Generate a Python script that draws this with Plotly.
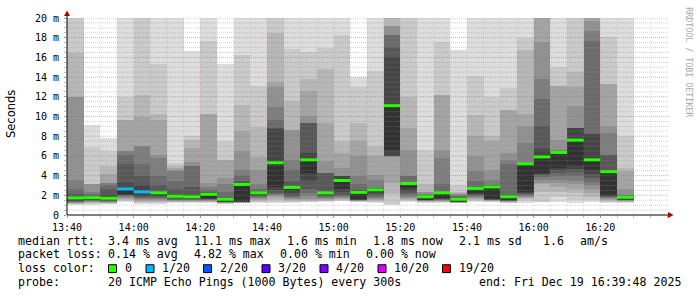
import plotly.graph_objects as go
import pandas as pd

# ---------------- data ----------------
DAY = "2025-12-19 "
bar_start = ["13:40", "13:45", "13:50", "13:55", "14:00", "14:05", "14:10", "14:15", "14:20",
             "14:25", "14:30", "14:35", "14:40", "14:45", "14:50", "14:55", "15:00", "15:05",
             "15:10", "15:15", "15:20", "15:25", "15:30", "15:35", "15:40", "15:45", "15:50",
             "15:55", "16:00", "16:05", "16:10", "16:15", "16:20", "16:25"]

median_ms = [1.73, 1.75, 1.7, 2.65, 2.35, 2.25, 1.9, 1.85, 2.1, 1.6, 3.1, 2.25, 5.3, 2.8,
             5.6, 2.25, 3.5, 2.3, 2.55, 11.1, 3.2, 1.85, 2.25, 1.6, 2.7, 2.85, 1.85, 5.2,
             5.9, 6.35, 7.6, 5.6, 4.4, 1.8]

lost_pings = [0, 0, 0, 1, 1, 0, 0, 0, 0, 0, 0, 0, 0, 0, 0, 0, 0, 0, 0, 0, 0, 0, 0, 0,
              0, 0, 0, 0, 0, 0, 0, 0, 0, 0]

# 20 sorted ping round-trip times (ms) per 5-minute step; values above 20 are off-scale
pings_ms = [
    [1.0, 1.1, 1.15, 1.2, 1.25, 1.3, 1.35, 1.4, 1.45, 1.5, 1.75, 1.8, 2.1, 2.6, 3.6, 12.0, 12.0, 16.4, 24, 24],
    [1.0, 1.1, 1.2, 1.3, 1.35, 1.4, 1.45, 1.5, 1.52, 1.55, 1.76, 1.8, 1.9, 2.1, 2.3, 3.1, 3.1, 3.1, 6.9, 9.1],
    [1.1, 1.15, 1.2, 1.25, 1.3, 1.35, 1.4, 1.45, 1.5, 1.55, 1.72, 2.0, 2.6, 3.0, 3.2, 3.2, 4.2, 5.0, 6.5, 7.8],
    [1.3, 1.4, 1.5, 1.6, 1.7, 1.8, 1.9, 2.0, 2.05, 2.1, 2.65, 3.2, 5.2, 6.1, 6.5, 6.5, 9.6, 9.6, 12.0, 24],
    [1.1, 1.2, 1.3, 1.4, 1.5, 1.6, 1.7, 1.8, 1.9, 2.3, 2.4, 3.0, 4.0, 5.2, 7.0, 7.0, 10.0, 12.2, 24, 24],
    [1.1, 1.2, 1.3, 1.4, 1.5, 1.6, 1.7, 1.8, 1.9, 2.0, 2.27, 2.3, 3.0, 4.0, 5.8, 6.1, 9.6, 10.3, 15.3, 24],
    [1.2, 1.3, 1.35, 1.4, 1.45, 1.5, 1.55, 1.6, 1.7, 1.85, 1.95, 2.0, 2.6, 3.5, 4.5, 4.6, 4.8, 5.0, 5.3, 24],
    [1.2, 1.3, 1.35, 1.4, 1.45, 1.5, 1.55, 1.6, 1.65, 1.8, 1.87, 2.0, 2.8, 5.0, 5.0, 5.4, 6.8, 7.6, 8.0, 16.7],
    [1.2, 1.3, 1.35, 1.4, 1.45, 1.5, 1.55, 1.6, 1.65, 1.7, 2.12, 2.2, 2.3, 2.5, 2.8, 3.3, 10.3, 10.3, 17.7, 24],
    [1.1, 1.15, 1.2, 1.22, 1.25, 1.27, 1.3, 1.32, 1.35, 1.4, 1.63, 1.7, 1.8, 2.3, 3.1, 3.8, 5.6, 5.6, 7.5, 15.3],
    [1.2, 1.22, 1.24, 1.26, 1.28, 1.3, 1.32, 1.34, 1.36, 1.4, 3.15, 3.2, 3.5, 4.0, 4.6, 6.5, 8.5, 11.2, 16.2, 24],
    [1.2, 1.3, 1.4, 1.5, 1.6, 1.7, 1.8, 1.9, 2.0, 2.1, 2.27, 2.3, 2.4, 2.6, 3.1, 4.6, 5.9, 8.9, 13.1, 24],
    [1.2, 1.3, 1.5, 1.7, 1.9, 2.0, 2.1, 2.2, 2.5, 2.8, 5.3, 8.7, 8.8, 9.6, 11.0, 13.0, 13.5, 18.5, 24, 24],
    [1.2, 1.3, 1.4, 1.5, 1.6, 1.7, 1.8, 1.9, 2.2, 2.5, 2.85, 2.9, 3.5, 4.6, 5.6, 8.6, 8.6, 11.6, 16.9, 24],
    [1.3, 1.35, 1.4, 1.5, 1.6, 1.9, 2.2, 2.6, 3.5, 4.3, 5.7, 6.3, 9.3, 9.3, 9.3, 10.1, 12.6, 13.8, 16.5, 24],
    [1.3, 1.4, 1.45, 1.5, 1.6, 1.7, 1.8, 1.9, 2.0, 2.2, 2.27, 2.3, 4.3, 4.3, 4.3, 5.5, 9.3, 14.8, 17.0, 24],
    [1.4, 1.45, 1.5, 1.6, 1.7, 1.8, 1.9, 2.0, 2.3, 2.6, 3.55, 4.0, 4.0, 4.0, 4.0, 4.8, 6.3, 7.5, 18.3, 24],
    [1.3, 1.35, 1.4, 1.42, 1.45, 1.48, 1.5, 1.52, 1.55, 1.6, 2.35, 2.5, 2.5, 3.1, 4.0, 6.0, 7.5, 9.3, 13.0, 14.0],
    [1.2, 1.3, 1.4, 1.5, 1.6, 1.7, 1.8, 2.0, 2.2, 2.4, 2.6, 2.7, 2.7, 2.7, 3.6, 4.1, 6.0, 7.0, 14.6, 24],
    [1.05, 1.1, 2.1, 3.3, 5.9, 5.95, 6.0, 6.0, 6.0, 6.6, 11.15, 16.0, 17.1, 18.3, 18.3, 19.2, 19.2, 24, 24, 24],
    [1.3, 1.4, 1.5, 1.6, 1.7, 1.8, 2.0, 2.2, 2.4, 2.7, 3.25, 3.3, 3.3, 4.0, 4.0, 6.6, 8.8, 12.0, 24, 24],
    [1.2, 1.3, 1.35, 1.4, 1.42, 1.45, 1.48, 1.5, 1.52, 1.55, 1.87, 1.9, 1.95, 2.0, 2.1, 2.3, 2.3, 3.1, 6.6, 24],
    [1.2, 1.3, 1.35, 1.4, 1.45, 1.5, 1.55, 1.6, 1.65, 1.7, 2.28, 2.3, 2.3, 3.1, 5.8, 6.6, 12.2, 12.2, 17.6, 24],
    [1.2, 1.22, 1.24, 1.26, 1.28, 1.3, 1.32, 1.34, 1.36, 1.38, 1.62, 1.7, 1.8, 1.9, 2.0, 2.1, 2.2, 2.3, 3.0, 16.8],
    [1.3, 1.4, 1.5, 1.6, 1.7, 1.8, 1.9, 2.0, 2.1, 2.2, 2.75, 2.8, 2.8, 3.5, 4.5, 6.0, 8.0, 10.2, 14.1, 24],
    [1.3, 1.35, 1.4, 1.45, 1.5, 1.52, 1.54, 1.56, 1.58, 1.6, 2.9, 3.0, 3.0, 3.0, 3.6, 4.6, 7.5, 8.0, 12.0, 24],
    [1.2, 1.25, 1.3, 1.35, 1.4, 1.42, 1.44, 1.46, 1.48, 1.5, 1.87, 1.9, 2.0, 5.2, 5.6, 6.3, 10.7, 10.7, 12.9, 24],
    [1.2, 1.4, 1.6, 1.7, 1.8, 1.9, 2.0, 2.1, 2.2, 2.3, 5.25, 5.3, 5.3, 5.3, 7.3, 9.0, 10.3, 16.8, 18.0, 24],
    [1.3, 1.3, 2.3, 3.1, 3.3, 3.6, 3.9, 4.1, 4.2, 4.3, 6.1, 6.7, 9.0, 11.8, 13.8, 17.6, 24, 24, 24, 24],
    [1.3, 1.8, 2.3, 2.8, 3.2, 3.6, 4.0, 4.3, 4.6, 4.8, 6.4, 6.5, 6.5, 6.5, 6.6, 7.6, 13.1, 13.1, 15.0, 24],
    [1.2, 1.5, 2.2, 2.6, 3.1, 3.5, 4.0, 4.4, 4.7, 5.0, 7.65, 8.8, 8.8, 8.8, 8.8, 11.1, 13.0, 14.5, 24, 24],
    [1.3, 1.5, 1.8, 2.2, 2.6, 3.0, 3.4, 3.8, 4.2, 4.6, 5.65, 8.2, 8.2, 17.7, 18.7, 19.7, 24, 24, 24, 24],
    [1.2, 1.3, 1.4, 1.5, 1.6, 1.7, 1.8, 1.85, 1.9, 2.0, 4.45, 4.5, 6.1, 6.1, 8.3, 9.0, 13.3, 13.3, 18.1, 24],
    [1.2, 1.3, 1.35, 1.4, 1.45, 1.5, 1.52, 1.54, 1.56, 1.6, 1.85, 1.9, 1.95, 2.0, 2.0, 2.6, 4.5, 4.8, 8.0, 24],
]

x_tick_labels = ["13:40", "14:00", "14:20", "14:40", "15:00", "15:20", "15:40", "16:00", "16:20"]
y_tick_values = [0, 2, 4, 6, 8, 10, 12, 14, 16, 18, 20]
y_tick_labels = ["0", "2 m", "4 m", "6 m", "8 m", "10 m", "12 m", "14 m", "16 m", "18 m", "20 m"]

loss_levels = [0, 1, 2, 3, 4, 10, 19]
loss_labels = ["0", "1/20", "2/20", "3/20", "4/20", "10/20", "19/20"]
loss_colors = ["#26ff00", "#00b8ff", "#0059ff", "#5e00ff", "#7e00ff", "#dd00ff", "#ff0000"]

stats_rtt = ["3.4 ms avg", "11.1 ms max", "1.6 ms min", "1.8 ms now", "2.1 ms sd", "1.6", "am/s"]
stats_loss = ["0.14 % avg", "4.82 % max", "0.00 % min", "0.00 % now"]
probe_text = "20 ICMP Echo Pings (1000 Bytes) every 300s"
end_text = "end: Fri Dec 19 16:39:48 2025"

# ---------------- geometry helpers ----------------
W, H = 697, 297
PL, PR, PT, PB = 67, 667, 15, 215


def px(x):
    return (x - PL) / (PR - PL)


def py(y):
    return (PB - y) / (PB - PT)


MONO = "DejaVu Sans Mono"
STEP = pd.Timedelta(minutes=5)
starts = [pd.Timestamp(DAY + s) for s in bar_start]
n_pings = 20
half = n_pings // 2

fig = go.Figure()

# smoke: nested layers, outer light -> inner dark (SmokePing style)
for k in range(1, half + 1):
    base = [p[k - 1] for p in pings_ms]
    top = [p[n_pings - k] for p in pings_ms]
    g = int(190 / half * (half - k)) + 50
    fig.add_trace(go.Bar(
        x=starts, y=[t - b for t, b in zip(top, base)], base=base,
        width=STEP.total_seconds() * 1000, offset=0,
        marker=dict(color=f"rgb({g},{g},{g})", line=dict(width=0)),
        hoverinfo="skip", showlegend=False))

# median lines coloured by loss
for lvl, col in zip(loss_levels, loss_colors):
    xs, ys = [], []
    for s, m, l in zip(starts, median_ms, lost_pings):
        if l == lvl:
            xs += [s, s + STEP, None]
            ys += [m, m, None]
    if xs:
        fig.add_trace(go.Scatter(x=xs, y=ys, mode="lines",
                                 line=dict(color=col, width=3),
                                 hoverinfo="skip", showlegend=False))

# grid on top (dotted)
shapes = []
minor_col = "rgba(143,143,143,0.42)"
major_col = "rgba(222,80,80,0.5)"
minor_col_v = "rgba(143,143,143,0.32)"
major_col_v = "rgba(222,80,80,0.32)"
for i in range(1, 41):
    yv = i * 0.5
    shapes.append(dict(type="line", xref="paper", yref="y", x0=0, x1=px(668), y0=yv, y1=yv,
                       layer="above",
                       line=dict(color=major_col if i % 4 == 0 else minor_col, width=1, dash="1px,1px")))
t0 = pd.Timestamp(DAY + "13:40")
for t in pd.date_range(t0 + STEP, pd.Timestamp(DAY + "16:35"), freq="5min"):
    shapes.append(dict(type="line", xref="x", yref="paper", x0=t, x1=t, y0=0, y1=1,
                       layer="above",
                       line=dict(color=major_col_v if t.minute % 20 == 0 else minor_col_v,
                                 width=1, dash="1px,2px")))

# axes lines + arrows
axis_col = "#000000"
arrow_col = "#b00000"
shapes.append(dict(type="line", xref="paper", yref="paper", x0=px(67), x1=px(671), y0=py(215), y1=py(215),
                   layer="above", line=dict(color=axis_col, width=1)))
shapes.append(dict(type="line", xref="paper", yref="paper", x0=px(67), x1=px(67), y0=py(215), y1=py(11),
                   layer="above", line=dict(color=axis_col, width=1)))
shapes.append(dict(type="path", xref="paper", yref="paper", layer="above",
                   path=f"M {px(668)} {py(212)} L {px(673.5)} {py(215)} L {px(668)} {py(218)} Z",
                   fillcolor=arrow_col, line=dict(width=0)))
shapes.append(dict(type="path", xref="paper", yref="paper", layer="above",
                   path=f"M {px(64)} {py(13)} L {px(67)} {py(7.5)} L {px(70)} {py(13)} Z",
                   fillcolor=arrow_col, line=dict(width=0)))

annotations = []


def text(s, x, y, size=11.6, family=MONO, color="#000000", angle=0, xanchor="left"):
    annotations.append(dict(text=s, x=px(x), y=py(y), xref="paper", yref="paper",
                            xanchor=xanchor, yanchor="middle", showarrow=False,
                            borderpad=0, textangle=angle,
                            font=dict(family=family, size=size, color=color)))


# legend / stats block
L1, L2, L3, L4 = 241.2, 255.1, 269.0, 282.8
text("median rtt:", 16.7, L1)
for s, x in zip(stats_rtt, [107.3, 193.3, 286.3, 372.3, 458.3, 541.7, 579.0]):
    text(s, x, L1)
text("packet loss:", 16.7, L2)
for s, x in zip(stats_loss, [107.3, 193.3, 279.3, 365.0]):
    text(s, x, L2)
text("loss color:", 16.7, L3)
box_x = [108.5, 146.0, 203.5, 262.0, 320.0, 378.0, 442.5]
for bx, lab, col in zip(box_x, loss_labels, loss_colors):
    shapes.append(dict(type="rect", xref="paper", yref="paper",
                       x0=px(bx), x1=px(bx + 8), y0=py(265.5), y1=py(273.5),
                       fillcolor=col, line=dict(color="#000000", width=1)))
    text(lab, bx + 15, L3)
text("probe:", 16.7, L4)
text(probe_text, 107.3, L4)
text(end_text, 478.3, L4)

# axis title & watermark
text("Seconds", 10.5, 113, size=11.5, family="DejaVu Sans", angle=-90, xanchor="center")
text("RRDTOOL / TOBI OETIKER", 689, 60, size=8.3, family=MONO, color="#a8a8a8", angle=90,
     xanchor="center")

fig.update_layout(
    width=W, height=H, autosize=False,
    margin=dict(l=PL, r=W - PR, t=PT, b=H - PB, pad=0),
    paper_bgcolor="#ffffff", plot_bgcolor="#ffffff",
    barmode="overlay", bargap=0, showlegend=False,
    shapes=shapes, annotations=annotations,
    xaxis=dict(type="date", range=[DAY + "13:40", DAY + "16:40"],
               tickvals=[DAY + t for t in x_tick_labels], ticktext=x_tick_labels,
               showgrid=False, zeroline=False, showline=False,
               ticks="outside", ticklen=2, tickcolor="#999999",
               minor=dict(ticks="outside", ticklen=2, tickcolor="#bbbbbb",
                          tickmode="linear", tick0=DAY + "13:40", dtick=300000, showgrid=False),
               tickfont=dict(family=MONO, size=10, color="#000000"),
               ticklabelstandoff=1),
    yaxis=dict(range=[0, 20], tickvals=y_tick_values, ticktext=y_tick_labels,
               showgrid=False, zeroline=False, showline=False,
               ticks="outside", ticklen=2, tickcolor="#999999",
               minor=dict(ticks="outside", ticklen=2, tickcolor="#bbbbbb",
                          tickmode="linear", tick0=0, dtick=0.5, showgrid=False),
               tickfont=dict(family=MONO, size=10, color="#000000"),
               ticklabelstandoff=3),
)

fig.write_html("out.html")
